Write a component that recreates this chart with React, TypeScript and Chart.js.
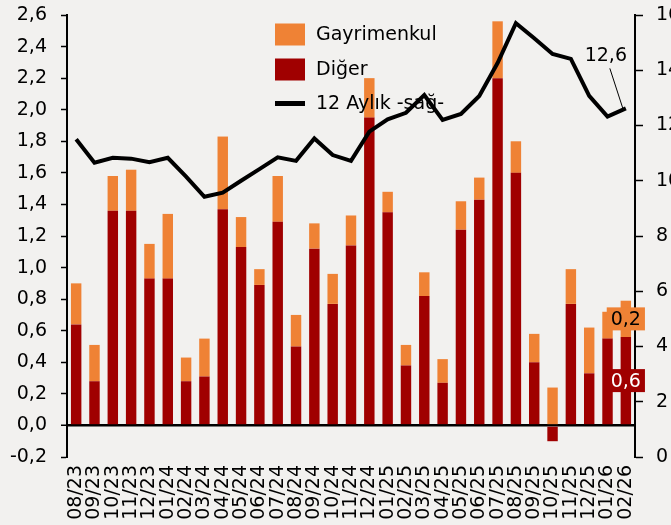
import React, { useEffect, useRef } from "react";
import { Chart, registerables } from "chart.js";

Chart.register(...registerables);

const categories = ["08/23","09/23","10/23","11/23","12/23","01/24","02/24","03/24","04/24","05/24","06/24","07/24","08/24","09/24","10/24","11/24","12/24","01/25","02/25","03/25","04/25","05/25","06/25","07/25","08/25","09/25","10/25","11/25","12/25","01/26","02/26"];
const diger = [0.64,0.28,1.36,1.36,0.93,0.93,0.28,0.31,1.37,1.13,0.89,1.29,0.50,1.12,0.77,1.14,1.95,1.35,0.38,0.82,0.27,1.24,1.43,2.20,1.60,0.40,-0.10,0.77,0.33,0.55,0.56];
const gayrimenkul = [0.26,0.23,0.22,0.26,0.22,0.41,0.15,0.24,0.46,0.19,0.10,0.29,0.20,0.16,0.19,0.19,0.25,0.13,0.13,0.15,0.15,0.18,0.14,0.36,0.20,0.18,0.24,0.22,0.29,0.17,0.23];
const yillik12 = [11.5,10.65,10.83,10.8,10.67,10.83,10.15,9.42,9.57,10.0,10.42,10.85,10.72,11.53,10.93,10.72,11.78,12.22,12.46,13.1,12.2,12.42,13.07,14.26,15.7,15.16,14.59,14.41,13.07,12.32,12.62];

const legendLabels = ["Gayrimenkul", "Diğer", "12 Aylık -sağ-"];
const RED = "#A00000";
const ORANGE = "#EF8235";
const BG = "#F2F1EF";
const FONT = "'DejaVu Sans', sans-serif";

const fmt = (v: number) => v.toFixed(1).replace(".", ",");

const overlayPlugin = {
  id: "overlay",
  afterDatasetsDraw(chart: any) {
    const ctx = chart.ctx;
    ctx.save();
    const last = categories.length - 1;
    const segs = [
      { ds: 1, bg: RED, fg: "#FFFFFF", val: diger[last] },
      { ds: 2, bg: ORANGE, fg: "#000000", val: gayrimenkul[last] },
    ];
    ctx.font = `19px ${FONT}`;
    ctx.textAlign = "center";
    ctx.textBaseline = "middle";
    for (const s of segs) {
      const el = chart.getDatasetMeta(s.ds).data[last];
      const cy = (el.y + el.base) / 2;
      const txt = fmt(s.val);
      const w = ctx.measureText(txt).width + 8;
      ctx.fillStyle = s.bg;
      ctx.fillRect(el.x - w / 2, cy - 11.5, w, 23);
      ctx.fillStyle = s.fg;
      ctx.fillText(txt, el.x, cy + 1);
    }
    const pt = chart.getDatasetMeta(0).data[last];
    ctx.strokeStyle = "#000";
    ctx.lineWidth = 1;
    ctx.beginPath();
    ctx.moveTo(pt.x - 16, pt.y - 40);
    ctx.lineTo(pt.x - 3, pt.y);
    ctx.stroke();
    ctx.fillStyle = "#000";
    ctx.font = `19px ${FONT}`;
    ctx.fillText(fmt(yillik12[last]), pt.x - 20, pt.y - 52);

    const lx = 275;
    const rows = [34.5, 69.5, 103.5];
    ctx.font = `19px ${FONT}`;
    ctx.textAlign = "left";
    ctx.fillStyle = ORANGE;
    ctx.fillRect(lx, rows[0] - 11, 30, 22);
    ctx.fillStyle = RED;
    ctx.fillRect(lx, rows[1] - 11, 30, 22);
    ctx.strokeStyle = "#000";
    ctx.lineWidth = 5;
    ctx.beginPath();
    ctx.moveTo(lx, rows[2]);
    ctx.lineTo(lx + 30, rows[2]);
    ctx.stroke();
    ctx.fillStyle = "#000";
    legendLabels.forEach((t, i) => ctx.fillText(t, 316, rows[i] + 1));
    ctx.restore();
  },
};

export default function App() {
  const ref = useRef<HTMLCanvasElement>(null);
  useEffect(() => {
    if (!ref.current) return;
    const chart = new Chart(ref.current, {
      type: "bar",
      data: {
        labels: categories,
        datasets: [
          {
            type: "line",
            label: legendLabels[2],
            data: yillik12,
            yAxisID: "y1",
            borderColor: "#000",
            borderWidth: 4,
            pointRadius: 0,
            tension: 0,
            order: 0,
          } as any,
          {
            label: legendLabels[1],
            data: diger,
            yAxisID: "y",
            backgroundColor: RED,
            stack: "s",
            order: 1,
            barPercentage: 0.57,
            categoryPercentage: 1,
          },
          {
            label: legendLabels[0],
            data: gayrimenkul,
            yAxisID: "y",
            backgroundColor: ORANGE,
            stack: "s",
            order: 1,
            barPercentage: 0.57,
            categoryPercentage: 1,
          },
        ],
      },
      options: {
        responsive: false,
        animation: false,
        devicePixelRatio: 1,
        layout: { padding: { top: 15, left: 0, right: 0, bottom: 0 } },
        plugins: { legend: { display: false }, tooltip: { enabled: false } },
        scales: {
          x: {
            stacked: true,
            grid: { display: false, drawTicks: false },
            border: { display: false },
            ticks: {
              autoSkip: false,
              minRotation: 90,
              maxRotation: 90,
              padding: 8,
              color: "#000",
              font: { family: FONT, size: 19 },
            },
            afterFit: (s: any) => { s.height = 68; s.paddingLeft = 0; s.paddingRight = 0; },
          },
          y: {
            stacked: true,
            position: "left",
            min: -0.2,
            max: 2.6,
            ticks: {
              stepSize: 0.2,
              color: "#000",
              padding: 14,
              font: { family: FONT, size: 19 },
              callback: (v: any) => fmt(Number(v)),
            },
            grid: {
              color: (c: any) => (c.tick && Math.abs(c.tick.value) < 1e-9 ? "#000" : "rgba(0,0,0,0)"),
              lineWidth: (c: any) => (c.tick && Math.abs(c.tick.value) < 1e-9 ? 2.5 : 1),
              tickColor: "#000",
              tickLength: 6,
              tickWidth: 1.5,
            },
            border: { display: true, color: "#000", width: 2 },
            afterFit: (s: any) => { s.width = 67; s.paddingTop = 0; s.paddingBottom = 0; },
          },
          y1: {
            position: "right",
            min: 0,
            max: 16,
            ticks: {
              stepSize: 2,
              color: "#000",
              padding: 13,
              font: { family: FONT, size: 19 },
            },
            grid: {
              drawOnChartArea: false,
              tickColor: "#000",
              tickLength: 8,
              tickWidth: 1.5,
            },
            border: { display: true, color: "#000", width: 2 },
            afterFit: (s: any) => { s.width = 65; s.paddingTop = 0; s.paddingBottom = 0; },
          },
        },
      },
      plugins: [overlayPlugin],
    });
    return () => chart.destroy();
  }, []);

  return (
    <div style={{ position: "fixed", left: 0, top: 0, width: 671, height: 525, overflow: "hidden", background: BG }}>
      <canvas ref={ref} width={700} height={525} style={{ width: 700, height: 525, display: "block" }} />
    </div>
  );
}
